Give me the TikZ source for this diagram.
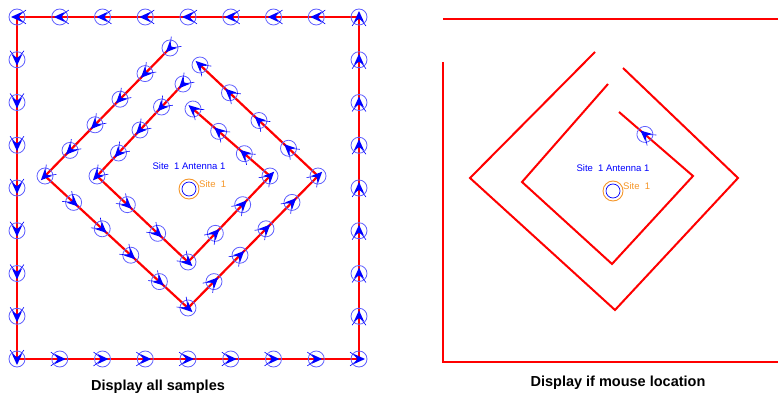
\documentclass[tikz,border=0pt]{standalone}
\usepackage{fontspec}
\setmainfont{Liberation Sans}
\usetikzlibrary{arrows.meta,calc}

\definecolor{pathred}{RGB}{255,0,0}
\definecolor{smpblue}{RGB}{0,0,255}
\definecolor{ringblue}{RGB}{95,95,255}
\definecolor{siteorange}{RGB}{245,150,40}

\tikzset{
  route/.style={draw=pathred,line width=2.2pt},
  pics/smp/.style={code={
    \draw[ringblue,line width=0.8pt] (0,0) circle (8pt);
    \draw[smpblue,line width=0.6pt] (0,0)--(-9,7) (0,0)--(-9,-7);
    \fill[smpblue] (6,0)--(-5,5)--(-2,0)--(-5,-5)--cycle;
  }},
  sitelbl/.style={font=\fontsize{9.5}{11}\selectfont,inner sep=0pt},
  title/.style={font=\fontsize{14.5}{16}\selectfont\bfseries,inner sep=0pt},
}

\begin{document}
\begin{tikzpicture}[x=1pt,y=-1pt]
\useasboundingbox (0,0) rectangle (778,395);
% all samples
\coordinate (sqBL) at (17,359);
\coordinate (sqBR) at (359,359);
\coordinate (sqTR) at (359,17);
\coordinate (sqTL) at (17,17);
\coordinate (oA) at (170,48);
\coordinate (oB) at (45,176);
\coordinate (oC) at (188,308);
\coordinate (oD) at (318,176);
\coordinate (oE) at (200,65);
\coordinate (iA) at (183,84);
\coordinate (iB) at (97,176);
\coordinate (iC) at (188,262);
\coordinate (iD) at (270,176);
\coordinate (iE) at (193,109);
\draw[route] (sqBL)--(sqBR)--(sqTR)--(sqTL)--cycle;
\draw[route] (oA)--(oB)--(oC)--(oD)--(oE);
\draw[route] (iA)--(iB)--(iC)--(iD)--(iE);
\foreach \a/\b/\k/\s in {sqBL/sqBR/8/1,sqBR/sqTR/8/1,sqTR/sqTL/8/1,sqTL/sqBL/8/1,
    oA/oB/5/0,oB/oC/5/1,oC/oD/5/1,oD/oE/4/1,
    iA/iB/4/0,iB/iC/3/1,iC/iD/3/1,iD/iE/3/1} {
  \pgfmathanglebetweenpoints{\pgfpointanchor{\a}{center}}{\pgfpointanchor{\b}{center}}
  \let\ang\pgfmathresult
  \foreach \i in {\s,...,\k}
    \pic[rotate=\ang] at ($(\a)!\i/\k!(\b)$) {smp};
}
\node[draw=siteorange,line width=0.9pt,circle,minimum size=20pt,inner sep=0pt] (site) at (189,189) {};
\draw[smpblue,line width=0.7pt] (site) circle (7pt);
\node[sitelbl,text=smpblue] (siteant) at (189,166) {Site~~1 Antenna 1};
\node[sitelbl,text=siteorange,anchor=west] (sitename) at (199,184) {Site~~1};
\node[title] (allsmp) at (158,387) {Display all samples};

% mouse location
\coordinate (rTL) at (443,19);
\coordinate (rTR) at (778,19);
\coordinate (rLT) at (443,62);
\coordinate (rBL) at (443,362);
\coordinate (rBR) at (778,362);
\coordinate (roA) at (595,52);
\coordinate (roB) at (470,178);
\coordinate (roC) at (615,310);
\coordinate (roD) at (738,178);
\coordinate (roE) at (623,68);
\coordinate (riA) at (608,84);
\coordinate (riB) at (522,182);
\coordinate (riC) at (612,264);
\coordinate (riD) at (693,176);
\coordinate (riE) at (619,112);
\draw[route,line width=2pt] (rTL)--(rTR);
\draw[route,line width=2pt] (rLT)--(rBL)--(rBR);
\draw[route,line width=2pt] (roA)--(roB)--(roC)--(roD)--(roE);
\draw[route,line width=2pt] (riA)--(riB)--(riC)--(riD)--(riE);
\pgfmathanglebetweenpoints{\pgfpointanchor{riD}{center}}{\pgfpointanchor{riE}{center}}
\let\ang\pgfmathresult
\pic[rotate=\ang] at ($(riD)!0.65!(riE)$) {smp};
\node[draw=siteorange,line width=0.9pt,circle,minimum size=20pt,inner sep=0pt] (rsite) at (613,191) {};
\draw[smpblue,line width=0.7pt] (rsite) circle (7pt);
\node[sitelbl,text=smpblue] (rsiteant) at (613,168) {Site~~1 Antenna 1};
\node[sitelbl,text=siteorange,anchor=west] (rsitename) at (623,186) {Site~~1};
\node[title] (mouseloc) at (618,383) {Display if mouse location};
\end{tikzpicture}
\end{document}
